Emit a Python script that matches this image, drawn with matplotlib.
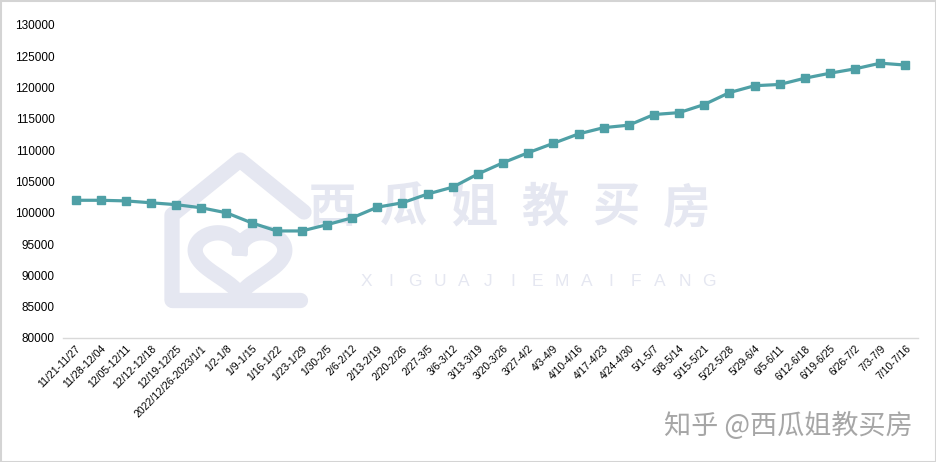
import numpy as np
import matplotlib
matplotlib.use("Agg")
from matplotlib import pyplot as plt
from matplotlib.patches import Rectangle

weeks = [
    "11/21-11/27", "11/28-12/04", "12/05-12/11", "12/12-12/18", "12/19-12/25",
    "2022/12/26-2023/1/1", "1/2-1/8", "1/9-1/15", "1/16-1/22", "1/23-1/29",
    "1/30-2/5", "2/6-2/12", "2/13-2/19", "2/20-2/26", "2/27-3/5", "3/6-3/12",
    "3/13-3/19", "3/20-3/26", "3/27-4/2", "4/3-4/9", "4/10-4/16", "4/17-4/23",
    "4/24-4/30", "5/1-5/7", "5/8-5/14", "5/15-5/21", "5/22-5/28", "5/29-6/4",
    "6/5-6/11", "6/12-6/18", "6/19-6/25", "6/26-7/2", "7/3-7/9", "7/10-7/16",
]
listings = [
    102000, 102000, 101900, 101600, 101300, 100800, 100000, 98400, 97100, 97100,
    98100, 99200, 100900, 101600, 103000, 104100, 106200, 108000, 109600, 111100,
    112600, 113600, 114000, 115700, 116000, 117300, 119200, 120300, 120500, 121500,
    122300, 123000, 123900, 123600,
]
yticks = list(range(80000, 130001, 5000))

LINE = "#4fa0a6"
WM = "#e5e7f1"

W, H = 936, 462
fig = plt.figure(figsize=(W / 100, H / 100), dpi=100)

# watermark layer in pixel coords (top-left origin)
bg = fig.add_axes([0, 0, 1, 1], zorder=0)
bg.set_xlim(0, W)
bg.set_ylim(H, 0)
bg.axis("off")

# house logo
bg.plot([172, 172, 240, 304], [300, 215, 160, 212], color=WM, lw=11,
        solid_capstyle="round", solid_joinstyle="round")
bg.plot([172, 300], [300, 300], color=WM, lw=11, solid_capstyle="round")
t = np.linspace(0, 2 * np.pi, 200)
hx = 16 * np.sin(t) ** 3
hy = 13 * np.cos(t) - 5 * np.cos(2 * t) - 2 * np.cos(3 * t) - np.cos(4 * t)
bg.plot(240 + hx * 2.8, 259 - hy * 2.2, color=WM, lw=11)

for i, ch in enumerate("西瓜姐教买房"):
    bg.text(332 + i * 71, 208, ch, fontsize=34, fontweight="bold", color=WM,
            ha="center", va="center", family=["Noto Sans CJK SC", "DejaVu Sans"])
for i, ch in enumerate("XIGUAJIEMAIFANG"):
    bg.text(366 + i * 24.5, 282, ch, fontsize=12.5, color=WM, ha="center", va="center",
            family="Liberation Sans")

# outer frame
bg.add_patch(Rectangle((0.5, 0.5), W - 1, H - 1, fill=False, ec="#d4d4d4", lw=1.5))

ax = fig.add_axes([63 / W, (H - 338) / H, (918 - 63) / W, (338 - 25) / H], zorder=1)
ax.patch.set_alpha(0)
x = np.arange(len(weeks))
ax.plot(x, listings, color=LINE, lw=2.3, marker="s", markersize=6,
        markerfacecolor=LINE, markeredgecolor=LINE)
ax.set_xlim(-0.5, len(weeks) - 0.5)
ax.set_ylim(80000, 130000)
ax.set_yticks(yticks)
ax.set_yticklabels([str(v) for v in yticks], fontsize=8.5, family="Liberation Sans")
ax.set_xticks(x)
ax.set_xticklabels(weeks, rotation=45, ha="right", rotation_mode="anchor",
                   fontsize=7.5, family="Liberation Sans")
ax.tick_params(axis="both", length=0)
ax.tick_params(axis="y", pad=6)
ax.tick_params(axis="x", pad=4)
for s in ["top", "right", "left"]:
    ax.spines[s].set_visible(False)
ax.spines["bottom"].set_color("#d9d9d9")
ax.spines["bottom"].set_linewidth(1)

fig.text(913 / W, 1 - 426 / H, "知乎 @西瓜姐教买房", fontsize=19.5, color="#a6a6a6",
         ha="right", va="center", family=["Noto Sans CJK SC", "DejaVu Sans"])

fig.savefig("out.png", dpi=100)
